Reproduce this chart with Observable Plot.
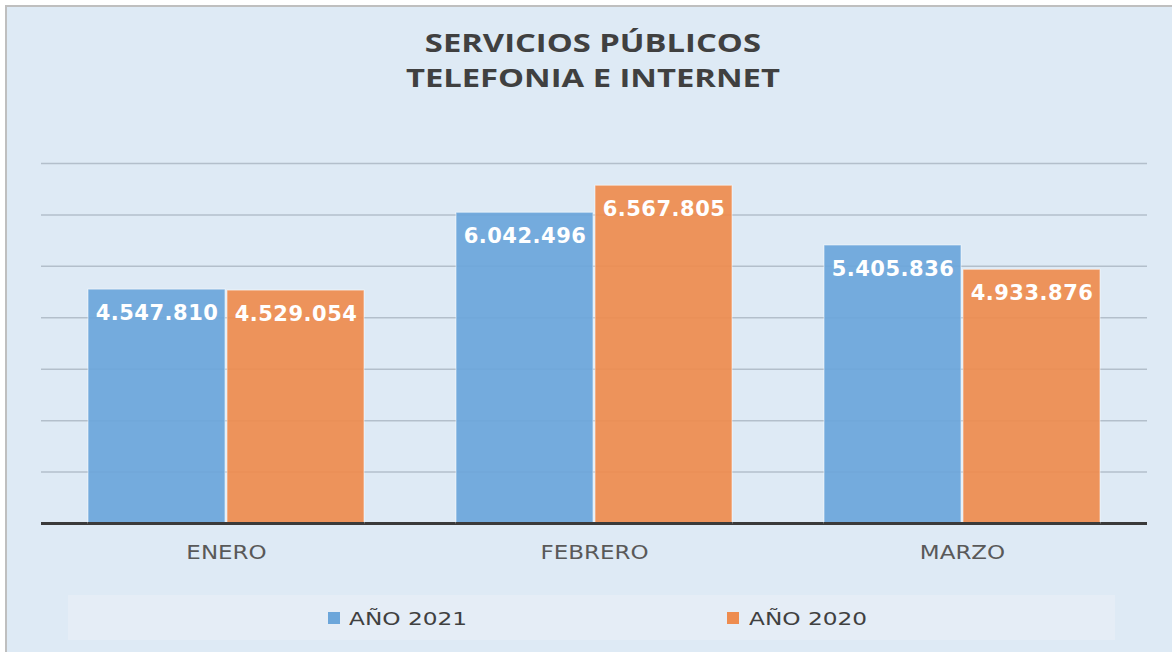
<!DOCTYPE html>
<html><head><meta charset="utf-8">
<script src="https://cdn.jsdelivr.net/npm/d3@7"></script>
<script src="https://cdn.jsdelivr.net/npm/@observablehq/plot@0.6"></script>
<style>
body{margin:0;background:#fff;}
#wrap{position:relative;width:1172px;height:652px;overflow:hidden;}
#panel{position:absolute;left:5px;top:5px;right:0;bottom:0;background:#DEEAF5;border-left:2px solid #BFBFBF;border-top:2px solid #BFBFBF;}
#title{position:absolute;left:10px;width:1172px;top:25px;text-align:center;font-family:"Open Sans";font-weight:700;font-size:25px;color:#404040;line-height:35px;transform:scaleX(1.31);transform-origin:596px 0;}
.layer{position:absolute;left:0;top:0;}
#legend{position:absolute;left:68px;top:595px;width:1047px;height:45px;background:#E5EDF6;}
.sw{position:absolute;top:612px;width:12px;height:12px;}
.lt{position:absolute;top:606px;font-family:"DejaVu Sans";font-size:18px;color:#404040;line-height:26px;transform:scaleX(1.29);transform-origin:0 0;white-space:nowrap;}
.fg g[aria-label="text"] text{letter-spacing:0.5px;}
</style>
</head><body>
<div id="wrap">
  <div id="panel"></div>
  <div id="title"></div>
  <div id="legend"></div>
  <div id="bg" class="layer"></div>
  <div id="fg" class="layer fg"></div>
  <div id="leg"></div>
</div>
<script>
const months = ["ENERO", "FEBRERO", "MARZO"];
const series = ["AÑO 2021", "AÑO 2020"];
const v2021 = [4547810, 6042496, 5405836];
const v2020 = [4529054, 6567805, 4933876];
const yTicks = [1e6, 2e6, 3e6, 4e6, 5e6, 6e6, 7e6];
const colors = ["#6CA6DA", "#EE8C4F"];
const titleLines = ["SERVICIOS PÚBLICOS", "TELEFONIA E INTERNET"];

const data = [];
months.forEach((m, i) => {
  data.push({month: m, serie: series[0], value: v2021[i]});
  data.push({month: m, serie: series[1], value: v2020[i]});
});
const fmt = v => d3.format(",")(v).replace(/,/g, ".");

document.getElementById("title").innerHTML = titleLines.join("<br>");

const W = 1172, H = 600;
const common = {
  width: W, height: H,
  marginLeft: 41, marginRight: 25, marginTop: 163, marginBottom: 77,
  y: {domain: [0, 7e6], axis: null}
};

const bg = Plot.plot({
  ...common,
  style: {background: "transparent", overflow: "visible"},
  x: {domain: months, axis: null},
  marks: [
    Plot.ruleY(yTicks, {stroke: "#B3BFCB", strokeWidth: 1.5}),
    Plot.ruleY([0], {stroke: "#3A3A3A", strokeWidth: 3})
  ]
});
document.getElementById("bg").appendChild(bg);

const fg = Plot.plot({
  ...common,
  style: {background: "transparent", overflow: "visible", fontFamily: "DejaVu Sans"},
  fx: {domain: months, paddingInner: 0.25, paddingOuter: 0.125, label: null},
  x: {domain: series, paddingInner: 0.015, paddingOuter: 0, axis: null},
  color: {domain: series, range: colors},
  marks: [
    Plot.barY(data, {fx: "month", x: "serie", y: "value", fill: "serie", fillOpacity: 0.93, stroke: "#ffffff", strokeOpacity: 0.55, strokeWidth: 1}),
    Plot.ruleY([0], {stroke: "#3A3A3A", strokeWidth: 3}),
    Plot.text(data, {fx: "month", x: "serie", y: "value", text: d => fmt(d.value), dy: 24, fill: "white", fontWeight: "bold", fontSize: 21}),
    Plot.axisFx({anchor: "bottom", tickSize: 0, tickPadding: 22, fontSize: 19, fill: "#595959", label: null})
  ]
});
document.getElementById("fg").appendChild(fg);

// widen the category labels like the reference's stretched lettering
fg.querySelectorAll('g[aria-label="fx-axis tick label"] text').forEach(t => {
  const len = t.getComputedTextLength();
  t.setAttribute("textLength", (len * 1.21).toFixed(1));
  t.setAttribute("lengthAdjust", "spacingAndGlyphs");
});

const leg = document.getElementById("leg");
const swX = [328, 727], txX = [349, 749];
series.forEach((s, i) => {
  const sw = document.createElement("div");
  sw.className = "sw"; sw.style.left = swX[i] + "px"; sw.style.background = colors[i];
  leg.appendChild(sw);
  const t = document.createElement("div");
  t.className = "lt"; t.style.left = txX[i] + "px"; t.textContent = s;
  leg.appendChild(t);
});
</script>
</body></html>
